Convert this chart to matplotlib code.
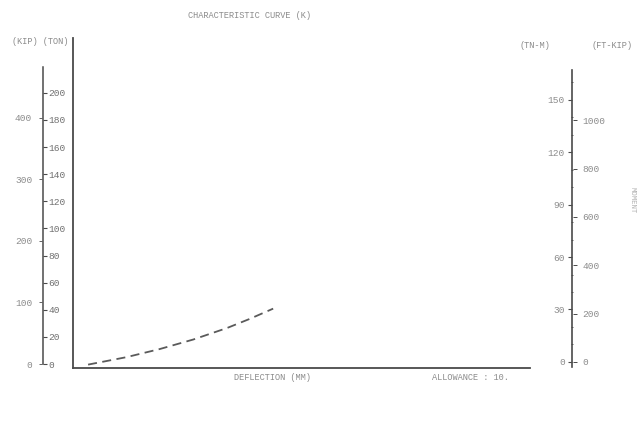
import matplotlib
matplotlib.use("Agg")
import matplotlib.pyplot as plt
import numpy as np

# ---- data -------------------------------------------------------------
deflection_mm = [3.3, 11.7, 19.0, 26.3, 33.7, 38.5, 43.8]
load_ton = [0.0, 5.5, 11.5, 18.5, 27.0, 33.5, 41.3]

ton_ticks = [0, 20, 40, 60, 80, 100, 120, 140, 160, 180, 200]
kip_ticks = [0, 100, 200, 300, 400]
tnm_ticks = [0, 30, 60, 90, 120, 150]
ftkip_ticks = [0, 200, 400, 600, 800, 1000]

TON_TO_KIP = 2.20462
TNM_TO_FTKIP = 7.233

title = "CHARACTERISTIC CURVE (K)"
left_header = "(KIP) (TON)"
right_header_1 = "(TN-M)"
right_header_2 = "(FT-KIP)"
x_label = "DEFLECTION (MM)"
allowance_label = "ALLOWANCE : 10."
moment_label = "MOMENT"

# ---- style ------------------------------------------------------------
W, H = 641, 425
plt.rcParams["font.family"] = ["Liberation Mono", "DejaVu Sans Mono"]
TXT = "#8c8c8c"
TICKTXT = "#707070"
LINE = "#4a4a4a"
FS = 6.2
TFS = 6.8

fig = plt.figure(figsize=(W / 100, H / 100), dpi=100)
fig.patch.set_facecolor("white")


def box(x0, y0, x1, y1):
    return [x0 / W, 1 - y1 / H, (x1 - x0) / W, (y1 - y0) / H]


# main plotting area
ax = fig.add_axes(box(73, 38, 530, 368))
ax.set_xlim(0, 100)
ax.set_ylim(-2.5, 241)
for s in ("top", "right"):
    ax.spines[s].set_visible(False)
for s in ("left", "bottom"):
    ax.spines[s].set_color(LINE)
    ax.spines[s].set_linewidth(1.3)
ax.set_xticks([])
ax.set_yticks([])
ax.patch.set_alpha(0)
ax.plot(deflection_mm, load_ton, color="#5a5a5a", lw=1.3,
        linestyle=(0, (5, 3)), solid_capstyle="butt")

# load scale (ton on the right of the spine, kip on the left)
axl = fig.add_axes(box(42, 67, 43, 364))
axl.set_ylim(0, 219)
axl.set_xticks([])
for s in ("top", "left", "bottom"):
    axl.spines[s].set_visible(False)
axl.spines["right"].set_color(LINE)
axl.spines["right"].set_linewidth(1.1)
axl.yaxis.set_ticks_position("right")
axl.set_yticks(ton_ticks)
axl.tick_params(axis="y", length=3, width=0.8, color=LINE, pad=1,
                labelsize=TFS, labelcolor=TICKTXT)
axl.patch.set_alpha(0)

sec_l = axl.secondary_yaxis(0.0, functions=(lambda t: t * TON_TO_KIP,
                                             lambda k: k / TON_TO_KIP))
sec_l.set_yticks(kip_ticks)
sec_l.spines["left"].set_visible(False)
sec_l.tick_params(axis="y", length=2, width=0.6, color=LINE, pad=5,
                  labelsize=TFS, labelcolor=TXT)

# moment scale (TN-M on the left of the spine, FT-KIP on the right)
axr = fig.add_axes(box(572, 70, 573, 367))
axr.set_ylim(-2.9, 167)
axr.set_xticks([])
for s in ("top", "right", "bottom"):
    axr.spines[s].set_visible(False)
axr.spines["left"].set_color(LINE)
axr.spines["left"].set_linewidth(1.2)
axr.set_yticks(tnm_ticks)
axr.set_yticks(np.arange(0, 161, 10), minor=True)
axr.tick_params(axis="y", which="major", length=3, width=0.8, color=LINE,
                pad=2, labelsize=TFS, labelcolor=TXT)
axr.tick_params(axis="y", which="minor", length=2, width=0.6, color=LINE,
                direction="inout")
axr.patch.set_alpha(0)

sec_r = axr.secondary_yaxis(1.0, functions=(lambda m: m * TNM_TO_FTKIP,
                                             lambda f: f / TNM_TO_FTKIP))
sec_r.set_yticks(ftkip_ticks)
sec_r.spines["right"].set_visible(False)
sec_r.tick_params(axis="y", length=3, width=0.7, color=LINE, pad=4,
                  labelsize=TFS, labelcolor=TXT)

# captions
fig.text(250 / W, 1 - 15 / H, title, ha="center", va="center",
         fontsize=FS, color=TXT)
fig.text(40 / W, 1 - 42 / H, left_header, ha="center", va="center",
         fontsize=FS, color=TXT)
fig.text(535 / W, 1 - 45 / H, right_header_1, ha="center", va="center",
         fontsize=FS, color=TXT)
fig.text(612 / W, 1 - 45 / H, right_header_2, ha="center", va="center",
         fontsize=FS, color=TXT)
fig.text(272 / W, 1 - 378 / H, x_label, ha="center", va="center",
         fontsize=FS, color=TXT)
fig.text(470 / W, 1 - 378 / H, allowance_label, ha="center", va="center",
         fontsize=FS, color=TXT)
fig.text(632 / W, 1 - 200 / H, moment_label, ha="center", va="center",
         rotation=270, fontsize=FS - 1, color="#b0b0b0")

fig.savefig("out.png", dpi=100, facecolor="white")
